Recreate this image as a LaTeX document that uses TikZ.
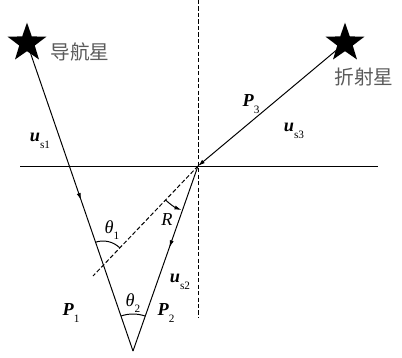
\documentclass[tikz,border=0pt]{standalone}
\usepackage{fontspec}
\setmainfont{Liberation Serif}
\newfontfamily\cjk{Noto Sans CJK SC}
\usepackage{tikz}
\usetikzlibrary{arrows.meta,shapes.geometric,decorations.markings}
\definecolor{label-grey}{HTML}{5a5a5a}
\newcommand{\vsym}[2]{\textbf{\textit{#1}}\raisebox{-0.8ex}{\fontsize{8}{9}\selectfont #2}}
\newcommand{\angsym}[2]{\textit{#1}\raisebox{-0.8ex}{\fontsize{8}{9}\selectfont #2}}

\begin{document}
\begin{tikzpicture}[
  x=0.025cm, y=0.025cm,
  font=\fontsize{13}{15}\selectfont,
  ray/.style={line width=0.7pt, black},
  guide/.style={line width=0.7pt, black, dash pattern=on 3pt off 1.6pt},
  star-mark/.style={star, star points=5, star point ratio=2.5, minimum size=1.02cm, inner sep=0pt, fill=black, draw=none},
  cn-label/.style={font=\cjk\fontsize{14}{16}\selectfont, text=label-grey},
  mid-arrow/.style={postaction={decorate}, decoration={markings, mark=at position #1 with {\arrow{Latex[length=5pt,width=3pt]}}}},
  tip/.style={-{Latex[length=5pt,width=3pt]}}
]
  \useasboundingbox (0,0) rectangle (402,357);

  % key points
  \coordinate (O) at (198,191);
  \coordinate (apex) at (133,6);
  \coordinate (cut) at (103,92);
  \coordinate (dash-end) at (93,81);
  \coordinate (surf-l) at (20,191);
  \coordinate (surf-r) at (378,191);
  \coordinate (norm-t) at (198,357);
  \coordinate (norm-b) at (198,39);

  \node[star-mark] (nav) at (27,314) {};
  \node[star-mark] (refr) at (345,314) {};
  \node[cn-label] (nav-lbl) at (80,305) {导航星};
  \node[cn-label] (refr-lbl) at (364,280) {折射星};

  % surface and normal
  \draw[ray] (surf-l) -- (surf-r);
  \draw[guide] (norm-t) -- (norm-b);
  \draw[guide] (O) -- (dash-end);

  % rays
  \draw[ray, mid-arrow=0.51] (nav.center) -- (apex);
  \draw[ray, mid-arrow=0.44] (O) -- (apex);
  \draw[ray, tip] (refr.center) -- (O);

  % angles
  \draw[ray] ([shift={(46:24)}]cut) arc[start angle=46, end angle=109, radius=24];
  \draw[ray] ([shift={(70.6:37)}]apex) arc[start angle=70.6, end angle=109.1, radius=37];
  \draw[ray, tip] ([shift={(226.3:47)}]O) arc[start angle=226.3, end angle=249.5, radius=47];

  \node (us1) at (40,216) {\vsym{u}{s1}};
  \node (p3) at (251,253) {\vsym{P}{3}};
  \node (us3) at (294,226) {\vsym{u}{s3}};
  \node (th1) at (112,127) {\angsym{θ}{1}};
  \node (r-lbl) at (167,137) {\textit{R}};
  \node (us2) at (180,75) {\vsym{u}{s2}};
  \node (th2) at (133,54) {\angsym{θ}{2}};
  \node (p1) at (71,44) {\vsym{P}{1}};
  \node (p2) at (166,44) {\vsym{P}{2}};
\end{tikzpicture}
\end{document}
